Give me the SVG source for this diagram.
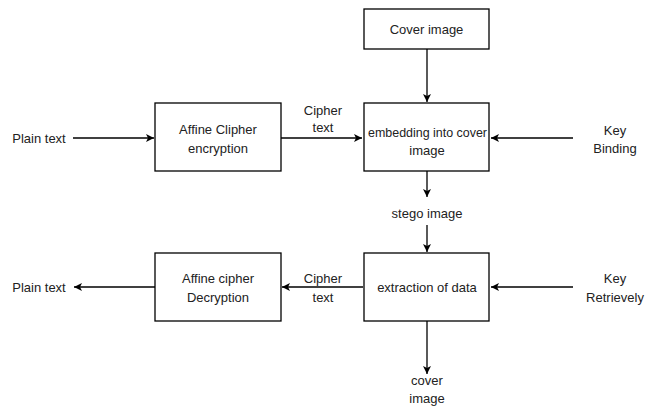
<svg xmlns="http://www.w3.org/2000/svg" width="646" height="410" viewBox="0 0 646 410">
<defs>
<marker id="ah" markerWidth="10" markerHeight="10" refX="9" refY="5" orient="auto" markerUnits="userSpaceOnUse">
<path d="M1,1 L9,5 L1,9 L3,5 Z" fill="#000"/>
</marker>
<style>
.box{fill:#fff;stroke:#000;stroke-width:1.3}
.t{font-family:"Liberation Sans",Arial,sans-serif;font-size:13px;fill:#222;text-anchor:middle}
.c{stroke:#000;stroke-width:1.3;fill:none;marker-end:url(#ah)}
</style>
</defs>
<rect width="646" height="410" fill="#fff"/>
<g id="connectors">
<line class="c" x1="73" y1="138" x2="154" y2="138"/>
<line class="c" x1="281" y1="138" x2="362" y2="138"/>
<line class="c" x1="427" y1="49" x2="427" y2="102"/>
<line class="c" x1="573" y1="138" x2="491" y2="138"/>
<line class="c" x1="427" y1="171" x2="427" y2="197"/>
<line class="c" x1="427" y1="225" x2="427" y2="252"/>
<line class="c" x1="573" y1="287" x2="491" y2="287"/>
<line class="c" x1="363" y1="287" x2="282" y2="287"/>
<line class="c" x1="155" y1="287" x2="74" y2="287"/>
<line class="c" x1="427" y1="321" x2="427" y2="374"/>
</g>
<g id="cover-image">
<rect class="box" x="364" y="9" width="125" height="40"/>
<text class="t" x="426.5" y="34">Cover image</text>
</g>
<g id="affine-encryption">
<rect class="box" x="155" y="103" width="126" height="68"/>
<text class="t" x="218" y="134">Affine Clipher</text>
<text class="t" x="218" y="152.5">encryption</text>
</g>
<g id="embedding">
<rect class="box" x="364" y="103" width="125" height="68"/>
<text class="t" x="427.5" y="136.5" textLength="119" lengthAdjust="spacingAndGlyphs">embedding into cover</text>
<text class="t" x="427" y="155">image</text>
</g>
<g id="extraction">
<rect class="box" x="364" y="253" width="125" height="68"/>
<text class="t" x="427" y="292">extraction of data</text>
</g>
<g id="affine-decryption">
<rect class="box" x="155" y="253" width="126" height="68"/>
<text class="t" x="218" y="283">Affine cipher</text>
<text class="t" x="218" y="301.5">Decryption</text>
</g>
<g id="labels">
<text class="t" x="39" y="142.5">Plain text</text>
<text class="t" x="323" y="114.5">Cipher</text>
<text class="t" x="323" y="132">text</text>
<text class="t" x="615" y="134.5">Key</text>
<text class="t" x="615" y="153">Binding</text>
<text class="t" x="427" y="217.5">stego image</text>
<text class="t" x="39" y="292">Plain text</text>
<text class="t" x="323" y="282.5">Cipher</text>
<text class="t" x="323" y="302">text</text>
<text class="t" x="615" y="283">Key</text>
<text class="t" x="615" y="302">Retrievely</text>
<text class="t" x="427" y="385">cover</text>
<text class="t" x="427" y="403">image</text>
</g>
</svg>
